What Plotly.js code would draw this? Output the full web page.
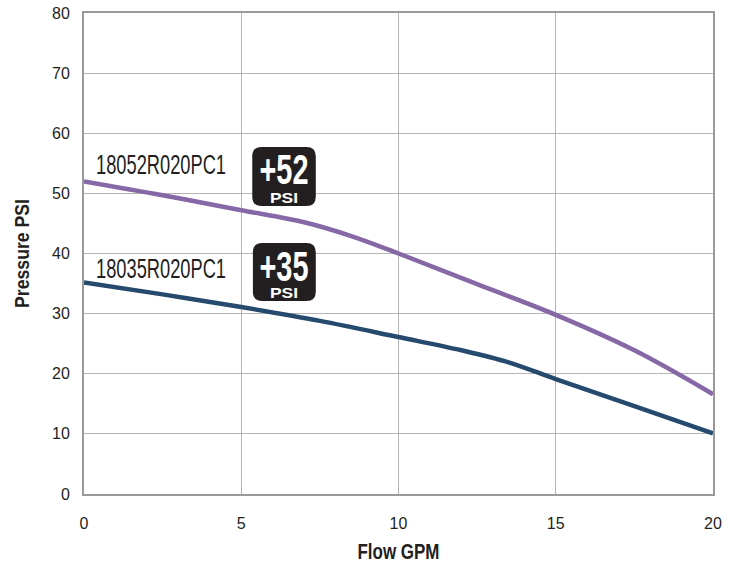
<!DOCTYPE html>
<html><head><meta charset="utf-8">
<script src="https://cdn.plot.ly/plotly-3.0.1.min.js"></script>
<style>html,body{margin:0;padding:0;background:#fff;}#chart{width:731px;height:564px;}</style>
</head><body><div id="chart"></div>
<script>
const flowHigh = [0, 2.5, 5, 7, 8.5, 10, 12.5, 15, 17.5, 20];
const pressHigh = [52, 49.7, 47.2, 45.2, 42.9, 40, 34.9, 29.8, 23.9, 16.6];
const flowLow = [0, 2.5, 5, 7.5, 10, 12, 13.5, 15, 17.5, 20];
const pressLow = [35.2, 33.2, 31.1, 28.8, 26.1, 23.9, 21.9, 19.1, 14.6, 10.1];
const seriesNames = ["18052R020PC1", "18035R020PC1"];
const badgeText = ["+52", "+35"];
const badgeUnit = "PSI";
const xTicks = [0, 5, 10, 15, 20];
const yTicks = [0, 10, 20, 30, 40, 50, 60, 70, 80];

const sans = "Liberation Sans, Arial, Helvetica, sans-serif";

const traces = [
  {x: flowHigh, y: pressHigh, mode: "lines", line: {color: "#8768a6", width: 4.5, shape: "spline", smoothing: 1}, hoverinfo: "skip"},
  {x: flowLow, y: pressLow, mode: "lines", line: {color: "#264a6e", width: 4.5, shape: "spline", smoothing: 1}, hoverinfo: "skip"}
];

function rrect(x0, x1, y0, y1) {
  const rx = 0.3, ry = 1.55;
  return `M ${x0+rx},${y1} L ${x1-rx},${y1} Q ${x1},${y1} ${x1},${y1-ry} L ${x1},${y0+ry} Q ${x1},${y0} ${x1-rx},${y0} L ${x0+rx},${y0} Q ${x0},${y0} ${x0},${y0+ry} L ${x0},${y1-ry} Q ${x0},${y1} ${x0+rx},${y1} Z`;
}

const badges = [{x0: 5.35, x1: 7.37, y0: 47.9, y1: 57.7}, {x0: 5.37, x1: 7.37, y0: 32.1, y1: 41.75}];
const badgeTextY = [54.05, 37.9];
const badgeUnitY = [49.25, 33.4];

const shapes = badges.map(b => ({type: "path", xref: "x", yref: "y", path: rrect(b.x0, b.x1, b.y0, b.y1), fillcolor: "#231f20", line: {width: 0}, layer: "above"}));

const annotations = [];
const squeeze = [];
const labelY = [54.8, 37.5];
seriesNames.forEach((n, i) => {
  annotations.push({x: 0.35, y: labelY[i], xref: "x", yref: "y", text: n, showarrow: false, xanchor: "left", align: "left", yanchor: "middle",
    width: 130, borderpad: 0, font: {family: sans, size: 27, color: "#231f20"}});
  squeeze.push(130);
});
badges.forEach((b, i) => {
  const cx = (b.x0 + b.x1) / 2;
  annotations.push({x: cx, y: badgeTextY[i], xref: "x", yref: "y", text: badgeText[i], showarrow: false, xanchor: "center", yanchor: "middle",
    width: 50, height: 38, borderpad: 0, font: {family: sans, size: 42, weight: "bold", color: "#ffffff"}});
  squeeze.push(49);
  annotations.push({x: cx, y: badgeUnitY[i], xref: "x", yref: "y", text: badgeUnit, showarrow: false, xanchor: "center", yanchor: "middle",
    width: 30, height: 12, borderpad: 0, font: {family: sans, size: 14.5, weight: "bold", color: "#ffffff"}});
  squeeze.push(28);
});

const layout = {
  width: 731, height: 564,
  margin: {l: 84, r: 18, t: 13, b: 70},
  paper_bgcolor: "#fff", plot_bgcolor: "#fff",
  showlegend: false,
  xaxis: {range: [0, 20], tickvals: xTicks, ticks: "", showgrid: true, gridcolor: "#b5b5b5", gridwidth: 1,
    zeroline: false, showline: true, linecolor: "#9a9a9a", linewidth: 2, mirror: true, ticklabelstandoff: 14,
    tickfont: {family: sans, size: 16, color: "#231f20"},
    title: {text: "Flow GPM", font: {family: sans, size: 22, weight: "bold", color: "#231f20"}, standoff: 16}},
  yaxis: {range: [0, 80], tickvals: yTicks, ticks: "", showgrid: true, gridcolor: "#b5b5b5", gridwidth: 1,
    zeroline: false, showline: true, linecolor: "#9a9a9a", linewidth: 2, mirror: true, ticklabelstandoff: 9,
    tickfont: {family: sans, size: 16, color: "#231f20"},
    title: {text: "Pressure PSI", font: {family: sans, size: 21, weight: "bold", color: "#231f20"}, standoff: 17}},
  shapes: shapes,
  annotations: annotations
};

Plotly.newPlot("chart", traces, layout, {displayModeBar: false, staticPlot: true}).then(gd => {
  const texts = gd.querySelectorAll(".annotation-text");
  texts.forEach((t, i) => {
    if (squeeze[i]) { t.setAttribute("textLength", squeeze[i]); t.setAttribute("lengthAdjust", "spacingAndGlyphs"); }
  });
  const xt = gd.querySelector(".xtitle");
  if (xt) { xt.setAttribute("textLength", 82); xt.setAttribute("lengthAdjust", "spacingAndGlyphs"); }
  const yt = gd.querySelector(".ytitle");
  if (yt) { yt.setAttribute("textLength", 109); yt.setAttribute("lengthAdjust", "spacingAndGlyphs"); }
});
</script></body></html>
